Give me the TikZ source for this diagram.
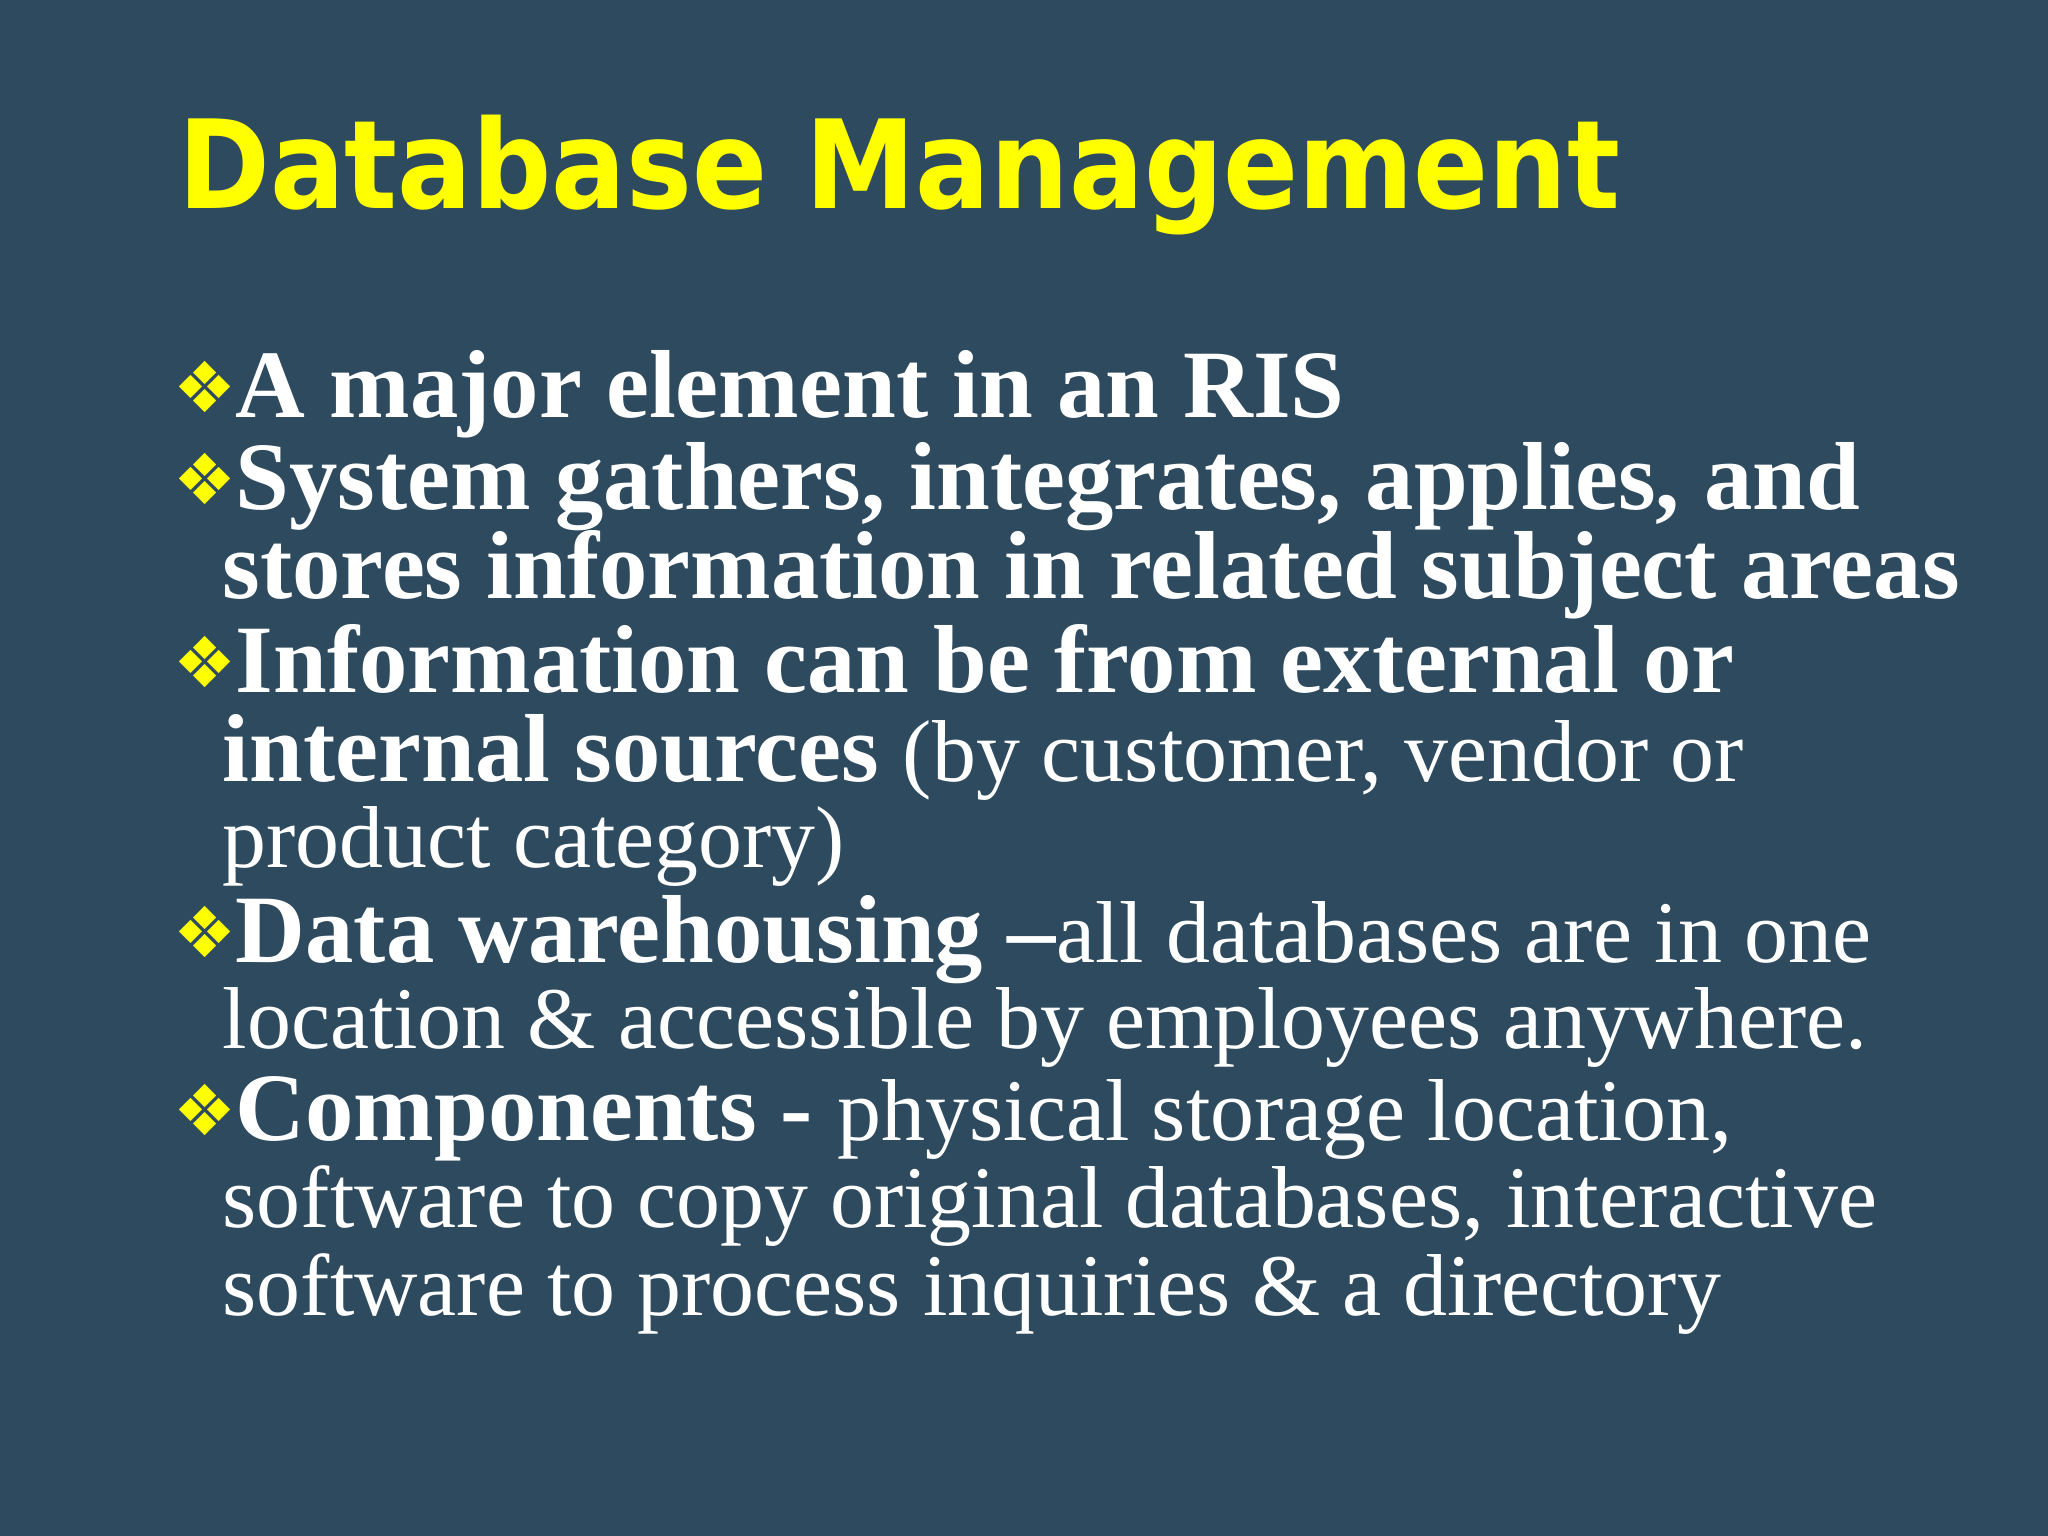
\documentclass[tikz,border=0pt]{standalone}
\usepackage{fontspec}
\setmainfont{Liberation Serif}
\newfontfamily\titlefont{DejaVu Sans Condensed}
\newfontfamily\symfont{DejaVu Sans}
\newcommand{\rg}[1]{{\fontsize{25}{27}\selectfont #1}}
\definecolor{bgc}{RGB}{46,74,94}
\definecolor{ttl}{RGB}{255,255,0}
\begin{document}
\begin{tikzpicture}[x=0.01306cm,y=-0.01306cm,
  ln/.style={anchor=base west,inner sep=0,text=white,font=\fontsize{27.5}{30}\selectfont},
  bul/.style={anchor=base west,inner sep=0,text=ttl,font=\symfont\fontsize{20}{22}\selectfont}]
\fill[bgc] (0,0) rectangle (1568,1176);
\useasboundingbox (0,0) rectangle (1568,1176);
\node[anchor=base west,inner sep=0,text=ttl,font=\titlefont\bfseries\fontsize{35}{40}\selectfont] (t) at (136,160) {Database Management};
\foreach \n/\yy in {1/320,2/390,3/530,4/737,5/873}{\node[bul] (b\n) at (132,\yy-4) {❖};}
\node[ln] (l1) at (180,320) {\textbf{A major element in an RIS}};
\node[ln] (l2) at (180,390) {\textbf{System gathers, integrates, applies, and}};
\node[ln] (l3) at (170,458) {\textbf{stores information in related subject areas}};
\node[ln] (l4) at (180,530) {\textbf{Information can be from external or}};
\node[ln] (l5) at (170,598) {\textbf{internal sources} \rg{(by customer, vendor or}};
\node[ln] (l6) at (170,664) {\rg{product category)}};
\node[ln] (l7) at (180,737) {\textbf{Data warehousing –}\rg{all databases are in one}};
\node[ln] (l8) at (170,803) {\rg{location \& accessible by employees anywhere.}};
\node[ln] (l9) at (180,873) {\textbf{Components -} \rg{physical storage location,}};
\node[ln] (l10) at (170,940) {\rg{software to copy original databases, interactive}};
\node[ln] (l11) at (170,1007) {\rg{software to process inquiries \& a directory}};
\end{tikzpicture}
\end{document}
